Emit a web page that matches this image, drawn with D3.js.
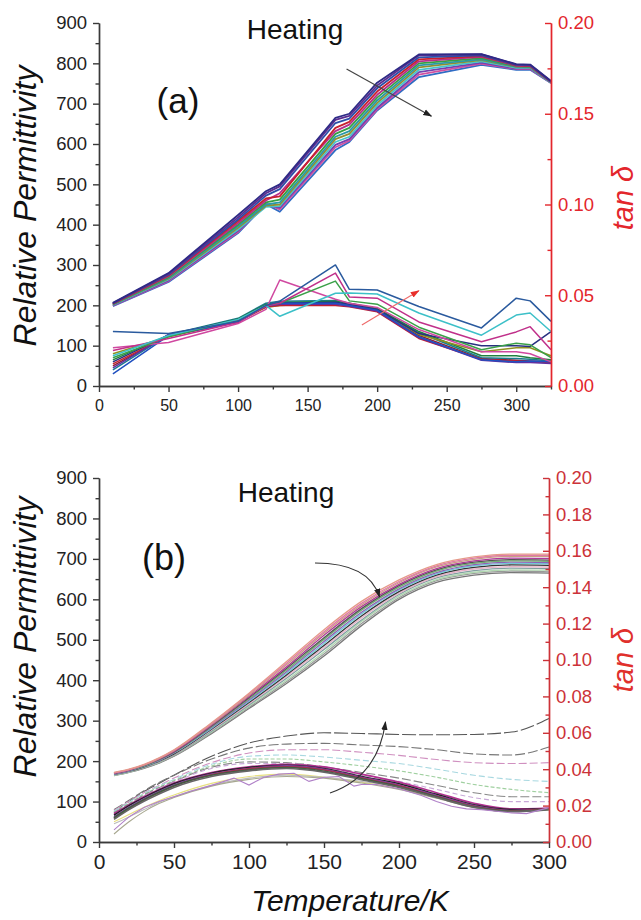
<!DOCTYPE html>
<html><head><meta charset="utf-8">
<script src="https://cdn.jsdelivr.net/npm/d3@7"></script>
<style>body{margin:0;background:#fff}</style>
</head><body>
<svg id="c" width="641" height="920"></svg>
<script>
// ---------------- DATA ----------------
// Panel (a): temperatures (K)
const tempA = [10, 50, 100, 120, 130, 170, 180, 200, 230, 275, 300, 310, 325];
// Panel (a) relative permittivity, one list per frequency
const epsA = [
  [206, 280, 424, 483, 500, 665, 675, 752, 822, 823, 798, 797, 756],
  [205, 278, 418, 478, 495, 660, 670, 745, 820, 822, 797, 796, 755],
  [205, 276, 413, 472, 488, 652, 663, 738, 815, 820, 796, 795, 755],
  [204, 274, 409, 465, 470, 640, 655, 730, 810, 818, 795, 794, 754],
  [204, 272, 404, 460, 478, 632, 648, 722, 805, 816, 794, 793, 754],
  [203, 270, 400, 455, 462, 625, 640, 715, 800, 813, 793, 792, 754],
  [202, 268, 396, 450, 455, 618, 632, 708, 795, 810, 792, 791, 753],
  [202, 266, 392, 447, 450, 612, 625, 702, 790, 808, 791, 790, 753],
  [201, 264, 388, 444, 446, 605, 618, 696, 784, 805, 789, 789, 752],
  [200, 262, 385, 448, 442, 598, 612, 690, 778, 802, 787, 787, 752],
  [199, 260, 382, 452, 438, 592, 608, 686, 772, 799, 786, 786, 751],
  [198, 258, 379, 451, 432, 585, 605, 683, 766, 796, 784, 784, 751]
];
const epsAColors = ["#2e2a86","#5b2d90","#2c4fa8","#c8202e","#b52f8c","#35a044","#2a98a8","#909030","#48c4cc","#7440b0","#d050a0","#2f6cc4"];
// Panel (a) tan delta, one list per frequency
const tanA = [
  [.0300,.0289,.0356,.0444,.0467,.0667,.0533,.0529,.0438,.0320,.0484,.0469,.0356],
  [.0167,.0278,.0367,.0444,.0384,.0511,.0513,.0507,.0402,.0280,.0391,.0402,.0300],
  [.0196,.0262,.0351,.0440,.0456,.0622,.0491,.0484,.0353,.0244,.0298,.0327,.0200],
  [.0156,.0271,.0367,.0444,.0456,.0578,.0469,.0451,.0324,.0200,.0236,.0227,.0156],
  [.0211,.0240,.0344,.0422,.0584,.0478,.0456,.0433,.0311,.0189,.0189,.0178,.0133],
  [.0067,.0278,.0351,.0444,.0456,.0456,.0444,.0418,.0271,.0144,.0133,.0138,.0133],
  [.0100,.0284,.0360,.0440,.0451,.0451,.0440,.0413,.0267,.0142,.0129,.0129,.0124],
  [.0122,.0276,.0356,.0436,.0444,.0444,.0436,.0409,.0262,.0147,.0138,.0133,.0129],
  [.0133,.0280,.0367,.0444,.0456,.0462,.0451,.0422,.0289,.0222,.0222,.0218,.0300],
  [.0178,.0271,.0356,.0433,.0444,.0456,.0444,.0418,.0284,.0189,.0211,.0211,.0167],
  [.0144,.0280,.0369,.0449,.0460,.0467,.0456,.0427,.0300,.0167,.0167,.0156,.0144],
  [.0089,.0282,.0373,.0456,.0467,.0471,.0456,.0422,.0293,.0156,.0151,.0147,.0138],
  [.0111,.0278,.0362,.0444,.0453,.0458,.0447,.0416,.0278,.0151,.0142,.0138,.0133]
];
const tanAColors = ["#2a5a9e","#3cc0c8","#c0308a","#3aa048","#d048a0","#2050c0","#6030a0","#c02030","#283080","#909020","#208040","#1a7a90","#902030"];

// Panel (b): temperatures (K)
const tempB = [10, 20, 30, 40, 50, 75, 100, 125, 150, 175, 200, 225, 250, 275, 300];
const epsB = [
  [172,180,192,208,228,295,368,446,525,595,648,686,705,712,712],
  [171,179,191,207,227,293,366,442,520,590,644,683,702,709,709],
  [171,179,190,206,226,291,363,438,516,586,641,680,699,706,706],
  [170,178,190,205,224,289,360,433,511,582,637,676,695,702,701],
  [170,178,189,204,223,287,357,429,505,577,634,673,692,698,697],
  [169,177,188,203,222,285,354,425,501,573,630,670,689,695,694],
  [168,176,188,202,221,283,351,421,496,568,626,666,686,692,691],
  [168,176,187,201,220,281,348,417,491,564,623,663,683,689,688],
  [167,175,186,200,218,279,345,413,486,559,619,660,679,685,684],
  [167,175,185,199,217,277,342,409,481,554,615,656,675,681,680],
  [166,174,184,198,216,274,339,405,476,549,612,653,671,677,676],
  [165,173,184,197,215,272,336,400,470,545,608,649,667,673,672],
  [165,173,183,196,213,270,333,396,465,540,604,646,664,670,668],
  [164,172,182,195,212,268,330,392,460,535,600,642,660,666,665]
];
const epsBColors = ["#e59a8a","#e07aa8","#c8a080","#b03a98","#555555","#70b070","#9060b8","#70c8d8","#333333","#e8b0c8","#80a0a0","#b0d8b0","#999999","#777777"];
const tanB = [
  [.0167,.0222,.0278,.0322,.0367,.0471,.0544,.0582,.0600,.0596,.0591,.0589,.0591,.0604,.0678],
  [.0178,.0229,.0282,.0327,.0367,.0456,.0516,.0538,.0542,.0533,.0524,.0507,.0484,.0478,.0522],
  [.0173,.0222,.0271,.0311,.0351,.0436,.0489,.0507,.0507,.0493,.0476,.0453,.0436,.0431,.0436],
  [.0169,.0218,.0267,.0307,.0344,.0427,.0471,.0478,.0467,.0449,.0431,.0400,.0367,.0344,.0333],
  [.0164,.0213,.0262,.0302,.0338,.0418,.0456,.0456,.0440,.0418,.0391,.0356,.0316,.0289,.0271],
  [.0160,.0209,.0258,.0298,.0333,.0411,.0440,.0436,.0413,.0382,.0351,.0311,.0271,.0249,.0249],
  [.0156,.0204,.0253,.0293,.0329,.0404,.0431,.0431,.0407,.0367,.0333,.0289,.0244,.0222,.0222],
  [.0111,.0151,.0191,.0227,.0258,.0322,.0360,.0373,.0356,.0329,.0293,.0244,.0191,.0169,.0178],
  [.0100,.0138,.0178,.0218,.0249,.0311,.0351,.0367,.0356,.0333,.0302,.0253,.0200,.0173,.0182],
  [.0044,.0111,.0167,.0211,.0244,.0307,.0344,.0360,.0351,.0324,.0289,.0240,.0189,.0167,.0178],
  [.0156,.0204,.0249,.0289,.0324,.0382,.0413,.0427,.0413,.0373,.0329,.0271,.0213,.0182,.0187],
  [.0147,.0200,.0244,.0284,.0320,.0378,.0409,.0422,.0404,.0360,.0320,.0262,.0204,.0178,.0182],
  [.0138,.0191,.0238,.0278,.0313,.0373,.0404,.0418,.0400,.0356,.0313,.0256,.0200,.0173,.0182],
  [.0129,.0182,.0231,.0271,.0307,.0369,.0402,.0413,.0396,.0351,.0309,.0251,.0196,.0171,.0184],
  [.0133,.0187,.0233,.0273,.0309,.0367,.0396,.0409,.0389,.0347,.0304,.0249,.0193,.0169,.0180],
  [.0124,.0178,.0224,.0264,.0300,.0360,.0391,.0404,.0384,.0342,.0300,.0244,.0191,.0167,.0178]
];
const tanBColors = ["#555555","#777777","#d090c0","#a8d8e0","#a0d0a0","#888888","#c8a8d8","#e8e080","#bbbbbb","#a8a890","#b03090","#222222","#8040a0","#a03050","#406040","#666666"];
const tanBDash = ["14,3","10,3","8,3","6,3","4,2","9,3","5,3",null,null,null,null,null,null,null,null,null];
// jagged low-frequency tan delta trace in panel (b)
const tempJ = [10,20,30,40,50,60,75,90,100,110,120,130,140,150,160,170,175,185,200,215,225,235,245,255,265,275,285,300];
const tanJ = [.0067,.0138,.0189,.0222,.0249,.0276,.0311,.0351,.0313,.0356,.0373,.0378,.0333,.0356,.0360,.0307,.0316,.0316,.0293,.0256,.0222,.0196,.0182,.0178,.0169,.0160,.0156,.0189];

// ticks
const epsTicks = [0,100,200,300,400,500,600,700,800,900];
const tempTicks = [0,50,100,150,200,250,300];
const tanTicksA = [0,0.05,0.10,0.15,0.20];
const tanTicksB = [0,0.02,0.04,0.06,0.08,0.10,0.12,0.14,0.16,0.18,0.20];

// ---------------- DRAW ----------------
const FONT = "'Liberation Sans', Arial, Helvetica, sans-serif";
const svg = d3.select('#c');
const AX = '#3a3a3a';
const RED = '#e3262c';
const defs = svg.append('defs');
function marker(id, color) {
  defs.append('marker').attr('id', id).attr('viewBox','0 0 10 10').attr('refX', 9).attr('refY', 5)
    .attr('markerWidth', 9).attr('markerHeight', 9).attr('markerUnits','userSpaceOnUse').attr('orient','auto')
    .append('path').attr('d','M0,1.5 L10,5 L0,8.5 z').attr('fill', color);
}
marker('ahK', '#222');
marker('ahR', '#e8302c');

function styleAxis(g, color, textColor, size) {
  g.attr('font-family', FONT).attr('font-size', size);
  g.select('.domain').attr('stroke', color).attr('stroke-width', 1.4);
  g.selectAll('.tick line').attr('stroke', color).attr('stroke-width', 1.4);
  g.selectAll('.tick text').attr('fill', textColor);
}

function drawAxes(x, y, y2, o) {
  const [x0, x1] = x.range();
  const [yb, yt] = y.range();
  svg.append('g').attr('transform', `translate(${x0},0)`)
    .call(d3.axisLeft(y).tickValues(d3.range(50, 900, 100)).tickSize(3.5).tickSizeOuter(0).tickFormat(''))
    .call(g => styleAxis(g, AX, '#222', 18));
  svg.append('g').attr('transform', `translate(0,${yb})`)
    .call(d3.axisBottom(x).tickValues(o.minorX).tickSize(3.5).tickSizeOuter(0).tickFormat(''))
    .call(g => styleAxis(g, AX, '#222', 18));
  svg.append('g').attr('transform', `translate(${x1},0)`)
    .call(d3.axisRight(y2).tickValues(o.minorY2).tickSizeInner(-3.5).tickSizeOuter(0).tickFormat(''))
    .call(g => styleAxis(g, o.red, o.red, 18));
  svg.append('g').attr('transform', `translate(${x0},0)`)
    .call(d3.axisLeft(y).tickValues(epsTicks).tickSize(6).tickSizeOuter(0).tickPadding(6))
    .call(g => styleAxis(g, AX, '#222', 18.5));
  svg.append('g').attr('transform', `translate(0,${yb})`)
    .call(d3.axisBottom(x).tickValues(tempTicks).tickSize(6).tickSizeOuter(0).tickPadding(o.xPad))
    .call(g => styleAxis(g, AX, '#222', o.xFont));
  svg.append('g').attr('transform', `translate(${x1},0)`)
    .call(d3.axisRight(y2).tickValues(o.ticksY2).tickSizeInner(-6).tickSizeOuter(0).tickPadding(7).tickFormat(d3.format('.2f')))
    .call(g => styleAxis(g, o.red, o.red, 18.5));
}

// ---------- Panel (a) ----------
const xA = d3.scaleLinear().domain([0, 325]).range([99, 551]);
const yA = d3.scaleLinear().domain([0, 900]).range([386, 23]);
const yA2 = d3.scaleLinear().domain([0, 0.2]).range([386, 23]);
const gA = svg.append('g');
const lineEA = d3.line().x((d, i) => xA(tempA[i])).y(d => yA(d));
const lineTA = d3.line().x((d, i) => xA(tempA[i])).y(d => yA2(d));
epsA.slice().reverse().forEach((s, k) => {
  const i = epsA.length - 1 - k;
  gA.append('path').attr('d', lineEA(s)).attr('fill','none').attr('stroke', epsAColors[i]).attr('stroke-width', 1.8).attr('stroke-linejoin','round');
});
tanA.slice().reverse().forEach((s, k) => {
  const i = tanA.length - 1 - k;
  gA.append('path').attr('d', lineTA(s)).attr('fill','none').attr('stroke', tanAColors[i]).attr('stroke-width', 1.5).attr('stroke-linejoin','round');
});
drawAxes(xA, yA, yA2, {minorX: [25,75,125,175,225,275,325], minorY2: [0.025,0.075,0.125,0.175], ticksY2: tanTicksA, xPad: 8, xFont: 16, red: RED});
svg.append('line').attr('x1', xA(178)).attr('y1', yA(786)).attr('x2', xA(239)).attr('y2', yA(669))
  .attr('stroke','#444').attr('stroke-width',1.2).attr('marker-end','url(#ahK)');
svg.append('line').attr('x1', xA(189)).attr('y1', yA2(0.0336)).attr('x2', xA(230)).attr('y2', yA2(0.0525))
  .attr('stroke','#ee6a6a').attr('stroke-width',1.1).attr('marker-end','url(#ahR)');

// ---------- Panel (b) ----------
const xB = d3.scaleLinear().domain([0, 300]).range([99, 549]);
const yB = d3.scaleLinear().domain([0, 900]).range([842, 478]);
const yB2 = d3.scaleLinear().domain([0, 0.2]).range([842, 478]);
const gB = svg.append('g');
const lineEB = d3.line().x((d, i) => xB(tempB[i])).y(d => yB(d)).curve(d3.curveMonotoneX);
const lineTB = d3.line().x((d, i) => xB(tempB[i])).y(d => yB2(d)).curve(d3.curveMonotoneX);
epsB.slice().reverse().forEach((s, k) => {
  const i = epsB.length - 1 - k;
  gB.append('path').attr('d', lineEB(s)).attr('fill','none').attr('stroke', epsBColors[i]).attr('stroke-width', 1.3);
});
tanB.forEach((s, i) => {
  const p = gB.append('path').attr('d', lineTB(s)).attr('fill','none').attr('stroke', tanBColors[i])
    .attr('stroke-width', i >= 10 ? 1.6 : 1.1);
  if (tanBDash[i]) p.attr('stroke-dasharray', tanBDash[i]);
});
const lineJ = d3.line().x((d, i) => xB(tempJ[i])).y(d => yB2(d));
gB.append('path').attr('d', lineJ(tanJ)).attr('fill','none').attr('stroke','#b080c8').attr('stroke-width',1.1);
drawAxes(xB, yB, yB2, {minorX: [25,75,125,175,225,275], minorY2: d3.range(0.01, 0.2, 0.02), ticksY2: tanTicksB, xPad: 6, xFont: 21, red: '#cc3238'});
svg.append('path')
  .attr('d', `M${xB(144)},${yB(690)} Q${xB(180)},${yB(690)} ${xB(187)},${yB(606)}`)
  .attr('fill','none').attr('stroke','#333').attr('stroke-width',1.1).attr('marker-end','url(#ahK)');
svg.append('path')
  .attr('d', `M${xB(154)},${yB2(0.0269)} Q${xB(186)},${yB2(0.036)} ${xB(191)},${yB2(0.066)}`)
  .attr('fill','none').attr('stroke','#333').attr('stroke-width',1.1).attr('marker-end','url(#ahK)');

// ---------- Text ----------
function txt(x, y, s, size, opts = {}) {
  const t = svg.append('text').attr('x', x).attr('y', y).text(s)
    .attr('font-family', FONT).attr('font-size', size).attr('fill', opts.fill || '#111')
    .attr('text-anchor', opts.anchor || 'middle');
  if (opts.italic) t.attr('font-style', 'italic');
  if (opts.rotate) t.attr('transform', `rotate(-90,${x},${y})`);
  return t;
}
txt(295, 39, 'Heating', 28);
txt(178, 113, '(a)', 35);
txt(36, 206, 'Relative Permittivity', 32, {italic: true, rotate: true});
txt(633, 198, 'tan δ', 29, {italic: true, rotate: true, fill: '#e3262c'});

txt(286, 502, 'Heating', 28);
txt(164, 570, '(b)', 36);
txt(36, 637, 'Relative Permittivity', 32, {italic: true, rotate: true});
txt(633, 660, 'tan δ', 29, {italic: true, rotate: true, fill: '#e0302c'});
txt(350, 911, 'Temperature/K', 30, {italic: true});
</script>
</body></html>
